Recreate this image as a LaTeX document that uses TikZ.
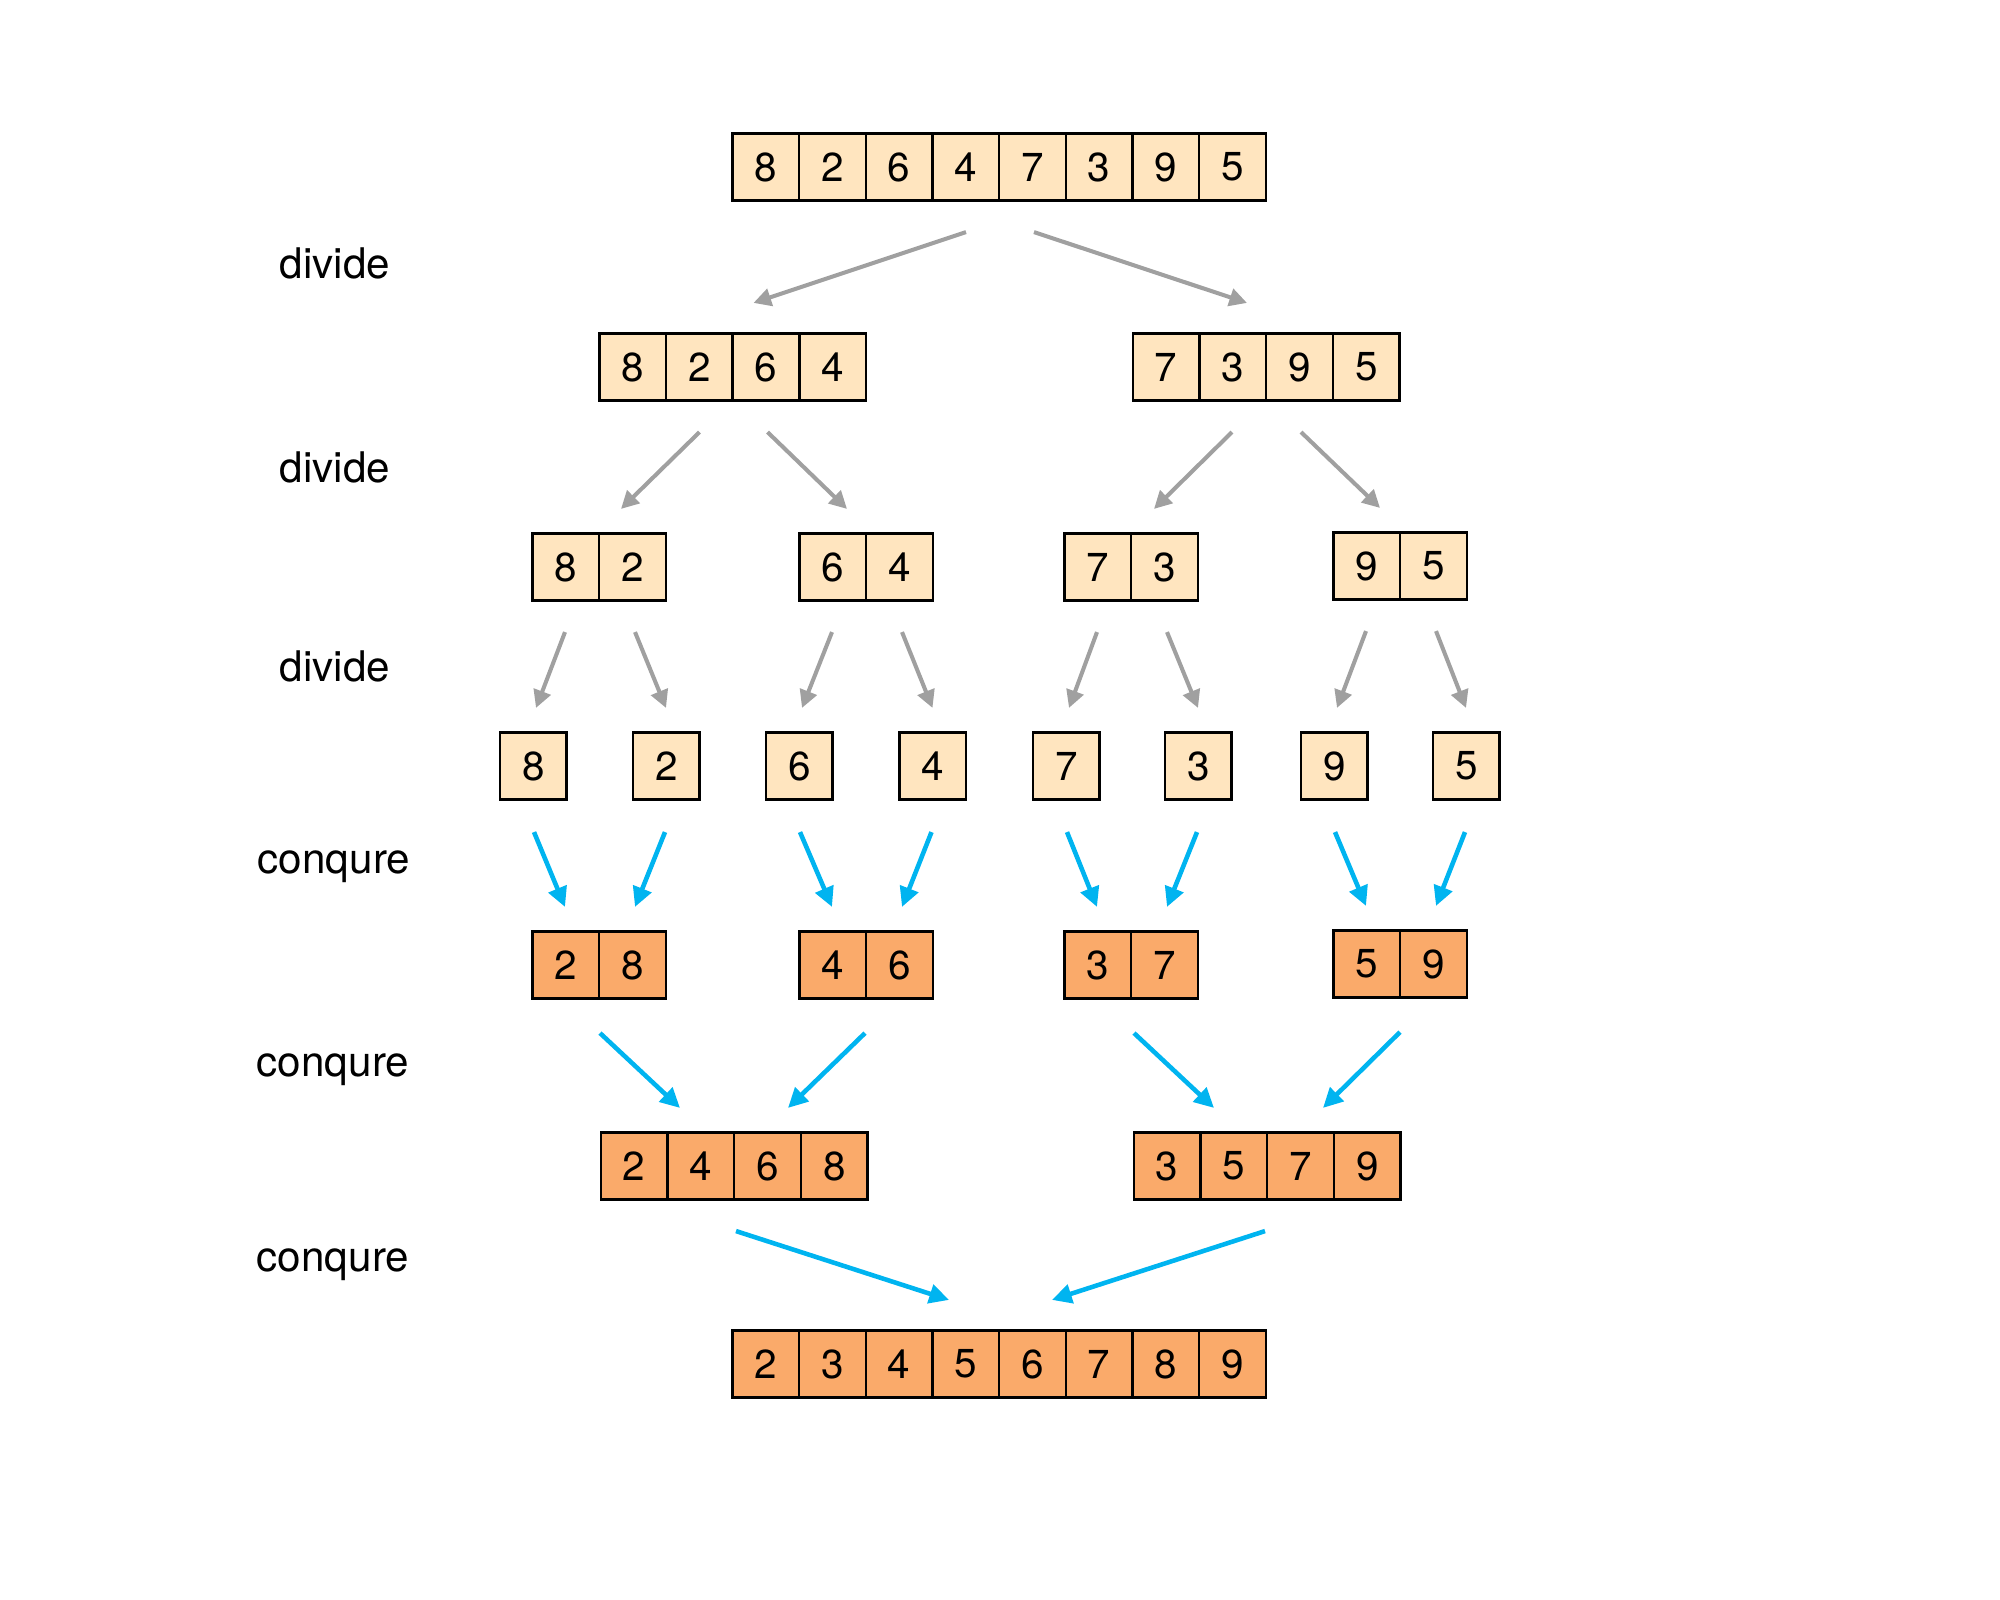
\documentclass[tikz,border=0pt]{standalone}
\usepackage{fontspec}
\setmainfont{TeX Gyre Heros}
\usetikzlibrary{arrows.meta,calc}
\definecolor{cellLight}{HTML}{FFE5BF}
\definecolor{cellDark}{HTML}{FAAA6A}
\definecolor{divGray}{HTML}{A0A0A0}
\definecolor{conqBlue}{HTML}{00B4F0}
\tikzset{
  cellbase/.style={draw=black, line width=0.7pt, inner sep=0pt,
    minimum width=0.667cm, minimum height=0.667cm, font=\fontsize{11.5}{13}\selectfont},
  cellL/.style={cellbase, fill=cellLight},
  cellD/.style={cellbase, fill=cellDark},
  garrow/.style={draw=divGray, line width=1.15pt, -{Triangle[length=5pt,width=5pt]}},
  barrow/.style={draw=conqBlue, line width=1.3pt, -{Triangle[length=5.6pt,width=5.4pt]}},
  lbl/.style={font=\fontsize{12}{14}\selectfont, inner sep=0pt}
}
\newcommand\cellarray[6]{%
  \node[inner sep=0pt, minimum width=#3*0.667cm, minimum height=0.667cm] (#1) at (#4,#5) {};
  \foreach \d [count=\i] in {#6} {
    \node[#2] (#1-\i) at ($(#1.west)+({(\i-0.5)*66.7},0)$) {\d};
  }%
}
\begin{document}
\begin{tikzpicture}[x=0.01cm,y=-0.01cm]
\useasboundingbox (0,0) rectangle (2000,1600);
% labels
\node[lbl] (l1) at (335,263) {divide};
\node[lbl] (l2) at (335,467) {divide};
\node[lbl] (l3) at (335,666) {divide};
\node[lbl] (l4) at (334,867) {conqure};
\node[lbl] (l5) at (333,1070) {conqure};
\node[lbl] (l6) at (333,1265) {conqure};
% row 1
\cellarray{r1}{cellL}{8}{1000}{167}{8,2,6,4,7,3,9,5}
% row 2
\cellarray{r2a}{cellL}{4}{733.5}{367}{8,2,6,4}
\cellarray{r2b}{cellL}{4}{1267}{367}{7,3,9,5}
% row 3
\cellarray{r3a}{cellL}{2}{600}{567}{8,2}
\cellarray{r3b}{cellL}{2}{867}{567}{6,4}
\cellarray{r3c}{cellL}{2}{1132}{567}{7,3}
\cellarray{r3d}{cellL}{2}{1401}{566}{9,5}
% row 4
\cellarray{r4a}{cellL}{1}{534}{766}{8}
\cellarray{r4b}{cellL}{1}{667}{766}{2}
\cellarray{r4c}{cellL}{1}{800}{766}{6}
\cellarray{r4d}{cellL}{1}{933.5}{766}{4}
\cellarray{r4e}{cellL}{1}{1067}{766}{7}
\cellarray{r4f}{cellL}{1}{1199}{766}{3}
\cellarray{r4g}{cellL}{1}{1335}{766}{9}
\cellarray{r4h}{cellL}{1}{1467}{766}{5}
% row 5
\cellarray{r5a}{cellD}{2}{600}{965}{2,8}
\cellarray{r5b}{cellD}{2}{867}{965}{4,6}
\cellarray{r5c}{cellD}{2}{1132}{965}{3,7}
\cellarray{r5d}{cellD}{2}{1401}{964}{5,9}
% row 6
\cellarray{r6a}{cellD}{4}{735}{1166}{2,4,6,8}
\cellarray{r6b}{cellD}{4}{1268}{1166}{3,5,7,9}
% row 7
\cellarray{r7}{cellD}{8}{1000}{1364}{2,3,4,5,6,7,8,9}
% divide level 1
\draw[garrow] ($(r1.south)+(-34,31)$) -- ($(r2a.north)+(20,-30)$);
\draw[garrow] ($(r1.south)+(34,31)$) -- ($(r2b.north)+(-20,-30)$);
% divide level 2
\draw[garrow] ($(r2a.south)+(-34,31)$) -- ($(r3a.north)+(21,-24)$);
\draw[garrow] ($(r2a.south)+(34,31)$) -- ($(r3b.north)+(-20,-24)$);
\draw[garrow] ($(r2b.south)+(-35,31)$) -- ($(r3c.north)+(22,-24)$);
\draw[garrow] ($(r2b.south)+(34,31)$) -- ($(r3d.north)+(-21,-24)$);
% divide level 3
\draw[garrow] ($(r3a.south)+(-35,31)$) -- ($(r4a.north)+(2,-24)$);
\draw[garrow] ($(r3a.south)+(35,31)$) -- ($(r4b.north)+(-1,-24)$);
\draw[garrow] ($(r3b.south)+(-35,31)$) -- ($(r4c.north)+(2,-24)$);
\draw[garrow] ($(r3b.south)+(35,31)$) -- ($(r4d.north)+(-1,-24)$);
\draw[garrow] ($(r3c.south)+(-35,31)$) -- ($(r4e.north)+(2,-24)$);
\draw[garrow] ($(r3c.south)+(35,31)$) -- ($(r4f.north)+(-1,-24)$);
\draw[garrow] ($(r3d.south)+(-35,31)$) -- ($(r4g.north)+(2,-24)$);
\draw[garrow] ($(r3d.south)+(35,31)$) -- ($(r4h.north)+(-1,-24)$);
% conquer level 1
\draw[barrow] ($(r4a.south)+(0,32)$) -- ($(r5a.north)+(-35,-24)$);
\draw[barrow] ($(r4b.south)+(-2,32)$) -- ($(r5a.north)+(35,-24)$);
\draw[barrow] ($(r4c.south)+(0,32)$) -- ($(r5b.north)+(-35,-24)$);
\draw[barrow] ($(r4d.south)+(-2,32)$) -- ($(r5b.north)+(35,-24)$);
\draw[barrow] ($(r4e.south)+(0,32)$) -- ($(r5c.north)+(-35,-24)$);
\draw[barrow] ($(r4f.south)+(-2,32)$) -- ($(r5c.north)+(35,-24)$);
\draw[barrow] ($(r4g.south)+(0,32)$) -- ($(r5d.north)+(-35,-24)$);
\draw[barrow] ($(r4h.south)+(-2,32)$) -- ($(r5d.north)+(35,-24)$);
% conquer level 2
\draw[barrow] ($(r5a.south)+(0,34)$) -- ($(r6a.north)+(-55,-24)$);
\draw[barrow] ($(r5b.south)+(-2,34)$) -- ($(r6a.north)+(53,-24)$);
\draw[barrow] ($(r5c.south)+(2,34)$) -- ($(r6b.north)+(-54,-24)$);
\draw[barrow] ($(r5d.south)+(-1,34)$) -- ($(r6b.north)+(55,-24)$);
% conquer level 3
\draw[barrow] ($(r6a.south)+(1,31)$) -- ($(r7.north)+(-51,-30)$);
\draw[barrow] ($(r6b.south)+(-3,31)$) -- ($(r7.north)+(52,-30)$);
\end{tikzpicture}
\end{document}
